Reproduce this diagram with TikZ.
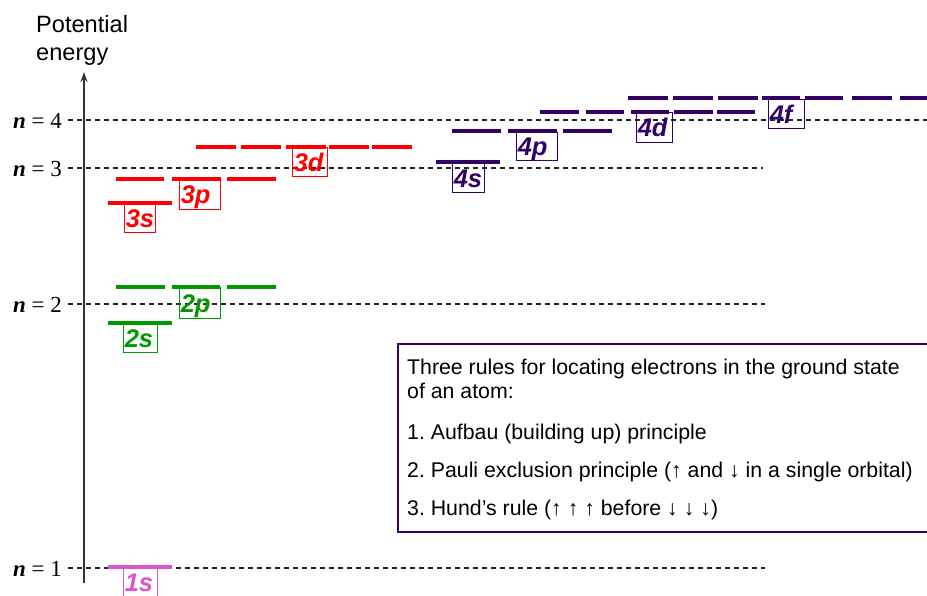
\documentclass[tikz,border=0pt]{standalone}
\usepackage{fontspec}
\setmainfont{Liberation Sans}
\newfontfamily\nfont{Liberation Serif}
\usetikzlibrary{arrows.meta}
\definecolor{pinkc}{HTML}{DD55CC}
\definecolor{greenc}{HTML}{009900}
\definecolor{redc}{HTML}{FF0000}
\definecolor{purplec}{HTML}{330066}
\frenchspacing
\begin{document}
\begin{tikzpicture}[x=1pt,y=-1pt,
  lvl/.style={line width=3.6pt},
  lbl/.style={draw, line width=1.2pt, anchor=north west, inner xsep=1.2pt, inner ysep=0pt, align=left,
    text height=18pt, text depth=0pt,
    font=\fontsize{25.5}{26}\selectfont\bfseries\itshape},
  guide/.style={dash pattern=on 5pt off 4pt, line width=1.2pt, black!85},
  nlab/.style={anchor=base east, inner sep=0pt, font=\nfont\fontsize{23}{23}\selectfont},
  rulet/.style={anchor=base west, inner sep=0pt, font=\fontsize{21.3}{22}\selectfont},
  axlab/.style={anchor=base west, inner sep=0pt, font=\fontsize{23.6}{24}\selectfont}]
\useasboundingbox (0,0) rectangle (927,595);
% axis label
\node[axlab] (pot) at (36,32) {Potential};
\node[axlab] (ene) at (36,60) {energy};
% guide lines
\draw[guide] (68,120) -- (927,120);
\draw[guide] (68,168) -- (763,168);
\draw[guide] (68,304) -- (765,304);
\draw[guide] (68,568) -- (765,568);
% n labels
\node[nlab] (n4) at (62,128) {{\bfseries\itshape n} = 4};
\node[nlab] (n3) at (62,176) {{\bfseries\itshape n} = 3};
\node[nlab] (n2) at (62,312) {{\bfseries\itshape n} = 2};
\node[nlab] (n1) at (62,576) {{\bfseries\itshape n} = 1};
% axis
\coordinate (ax0) at (84,583);
\coordinate (ax1) at (84,72);
\draw[line width=1.5pt, black!80, -{Stealth[length=10pt,width=7pt]}] (ax0) -- (ax1);
% levels: n=1
\draw[lvl, pinkc] (108,567) -- (172,567);
% n=2
\draw[lvl, greenc] (108,323) -- (172,323);
\foreach \a/\b in {116/165,172/220,227/276} \draw[lvl, greenc] (\a,287) -- (\b,287);
% n=3
\draw[lvl, redc] (108,203) -- (172,203);
\foreach \a/\b in {116/164,172/221,227/276} \draw[lvl, redc] (\a,179) -- (\b,179);
\foreach \a/\b in {196/236,241/281,286/326,329/369,372/412} \draw[lvl, redc] (\a,147) -- (\b,147);
% n=4
\draw[lvl, purplec] (436,162) -- (500,162);
\foreach \a/\b in {452/501,508/557,563/612} \draw[lvl, purplec] (\a,131) -- (\b,131);
\foreach \a/\b in {540/579,586/624,631/669,674/713,717/755} \draw[lvl, purplec] (\a,112) -- (\b,112);
\foreach \a/\b in {628/668,673/713,718/758,762/800,805/843,852/892,900/940} \draw[lvl, purplec] (\a,98) -- (\b,98);
% labels
\node[lbl, pinkc, text width=31.6pt, minimum height=30pt] (l1s) at (123,567) {1s};
\node[lbl, greenc, text width=31.6pt, minimum height=29pt] (l2s) at (123,323) {2s};
\node[lbl, greenc, text width=38.6pt, minimum height=31pt] (l2p) at (179,287) {2p};
\node[lbl, redc, text width=28.6pt, minimum height=28pt] (l3s) at (124,204) {3s};
\node[lbl, redc, text width=38.6pt, minimum height=30pt] (l3p) at (179,179) {3p};
\node[lbl, redc, text width=32.6pt, minimum height=29pt] (l3d) at (292,147) {3d};
\node[lbl, purplec, text width=29.6pt, minimum height=29pt] (l4s) at (452,163) {4s};
\node[lbl, purplec, text width=38.6pt, minimum height=28pt] (l4p) at (516,132) {4p};
\node[lbl, purplec, text width=33.6pt, minimum height=30pt] (l4d) at (636,112) {4d};
\node[lbl, purplec, text width=33.6pt, minimum height=29pt] (l4f) at (768,99) {4f};
% rules box
\draw[purplec, line width=1.2pt] (398,344) rectangle (940,532);
\node[rulet] (r0) at (407,374) {Three rules for locating electrons in the ground state};
\node[rulet] (r1) at (407,398) {of an atom:};
\node[rulet] (r2) at (407,439) {1. Aufbau (building up) principle};
\node[rulet] (r3) at (407,477) {2. Pauli exclusion principle (↑ and ↓ in a single orbital)};
\node[rulet] (r4) at (407,515) {3. Hund’s rule (↑ ↑ ↑ before ↓ ↓ ↓)};
\end{tikzpicture}
\end{document}
